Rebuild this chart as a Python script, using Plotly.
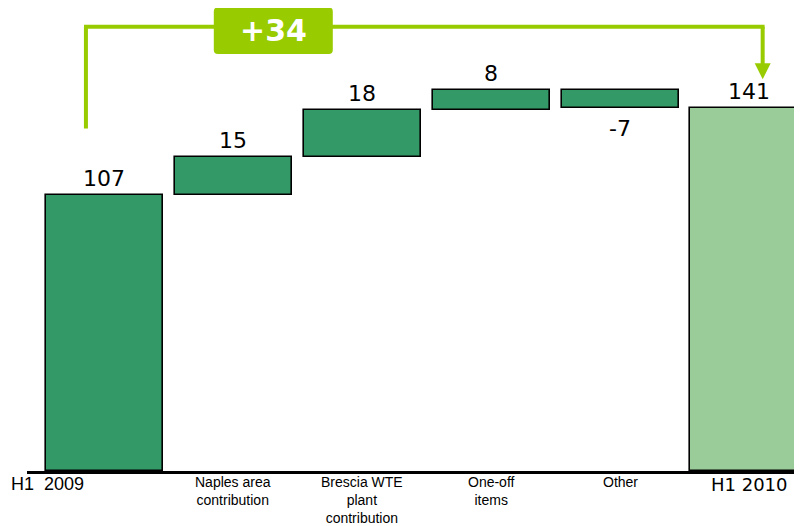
import plotly.graph_objects as go

# Waterfall data: EBITDA bridge H1 2009 -> H1 2010
categories = ["H1  2009", "Naples area<br>contribution", "Brescia WTE<br>plant<br>contribution",
              "One-off<br>items", "Other", "H1 2010"]
values = [107, 15, 18, 8, -7, 141]
kinds = ["total", "delta", "delta", "delta", "delta", "total"]

COLORS = {
    'start': '#339966',
    'delta': '#339966',
    'end': '#99CC99',
    'lime': '#99CC00',
}

# compute bases for floating bars
bases = []
running = 0
for v, k in zip(values, kinds):
    if k == "total":
        bases.append(0)
        running = v
    else:
        bases.append(running)
        running += v

x_pos = list(range(len(categories)))
bar_colors = [COLORS['start']] + [COLORS['delta']] * 4 + [COLORS['end']]

fig = go.Figure()
fig.add_trace(go.Bar(
    x=x_pos, y=values, base=bases,
    marker=dict(color=bar_colors, line=dict(color='black', width=1.6)),
    width=0.91,
    hoverinfo='skip',
))

# value labels
annotations = []
for i, (v, b) in enumerate(zip(values, bases)):
    if v >= 0:
        annotations.append(dict(x=i, y=b + v, yref='y', xref='x', text=str(v), showarrow=False,
                                yanchor='bottom', yshift=2,
                                font=dict(family='DejaVu Sans', size=22, color='black')))
    else:
        annotations.append(dict(x=i, y=b + v, yref='y', xref='x', text=str(v), showarrow=False,
                                yanchor='top', yshift=-6,
                                font=dict(family='DejaVu Sans', size=22, color='black')))

# category labels
for i, c in enumerate(categories):
    if i == 0:
        font = dict(family='Liberation Sans, Arial', size=18, color='black')
        xs = -57
    elif i == len(categories) - 1:
        font = dict(family='DejaVu Sans', size=18, color='black')
        xs = 0
    else:
        font = dict(family='Liberation Sans, Arial', size=14, color='black')
        xs = 0
    annotations.append(dict(x=i, y=0, xref='x', yref='y', text=c, showarrow=False,
                            yanchor='top', yshift=-1, xshift=xs, font=font))

# bracket showing the overall change
delta = values[-1] - values[0]
y_br = 172.5
x_l, x_r = -0.143, 5.105
shapes = [
    dict(type='line', x0=x_l, x1=x_l, y0=133, y1=y_br, xref='x', yref='y',
         line=dict(color=COLORS['lime'], width=4)),
    dict(type='line', x0=x_l - 0.015, x1=x_r + 0.015, y0=y_br, y1=y_br, xref='x', yref='y',
         line=dict(color=COLORS['lime'], width=4)),
    dict(type='line', x0=x_r, x1=x_r, y0=y_br, y1=158, xref='x', yref='y',
         line=dict(color=COLORS['lime'], width=4)),
    dict(type='path', xref='x', yref='y', xsizemode='pixel', ysizemode='pixel',
         xanchor=x_r, yanchor=158,
         path='M -8 1 L 8 1 L 0 -15 Z',
         fillcolor=COLORS['lime'], line=dict(width=0)),
    dict(type='path', xref='x', yref='y', xsizemode='pixel', ysizemode='pixel',
         xanchor=1.31, yanchor=171.1,
         path='M -55.5 23 L 55.5 23 Q 59.5 23 59.5 19 L 59.5 -19.5 Q 59.5 -23.5 55.5 -23.5 '
              'L -55.5 -23.5 Q -59.5 -23.5 -59.5 -19.5 L -59.5 19 Q -59.5 23 -55.5 23 Z',
         fillcolor=COLORS['lime'], line=dict(width=0)),
]
annotations.append(dict(x=1.31, y=171.1, xref='x', yref='y', text=f"<b>+{delta}</b>", showarrow=False,
                        font=dict(family='DejaVu Sans', size=30, color='white')))

# page body adds an 8px offset, so the figure is 8px smaller on each side
fig.update_layout(
    width=794, height=518,
    margin=dict(l=19, r=0, t=0, b=55),
    plot_bgcolor='white', paper_bgcolor='white',
    showlegend=False,
    shapes=shapes,
    annotations=annotations,
    bargap=0,
)
fig.update_xaxes(range=[-0.6, 5.41], showgrid=False, zeroline=False, showticklabels=False,
                 showline=True, linecolor='black', linewidth=2.5, ticks='')
fig.update_yaxes(range=[0, 179.8], showgrid=False, zeroline=False, showticklabels=False,
                 showline=False, ticks='')

fig.write_html("out.html")
